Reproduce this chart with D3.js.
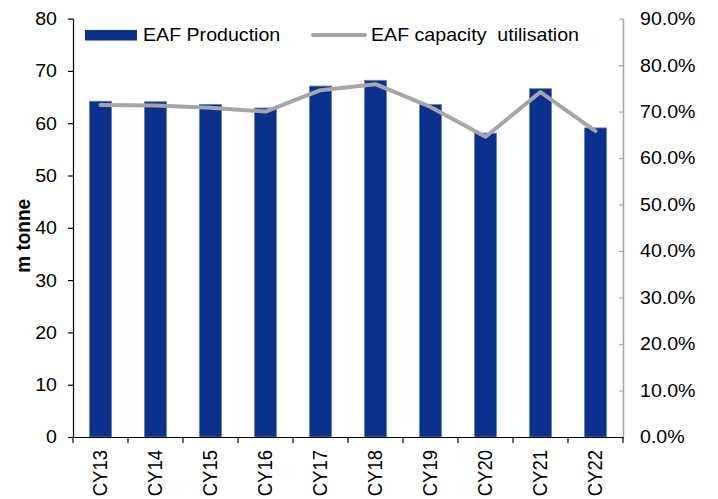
<!DOCTYPE html>
<html>
<head>
<meta charset="utf-8">
<script src="https://cdn.jsdelivr.net/npm/d3@7/dist/d3.min.js"></script>
<style>
  html, body { margin: 0; padding: 0; background: #fff; }
  svg text { font-family: "Liberation Sans", Arial, sans-serif; fill: #000; }
</style>
</head>
<body>
<svg id="chart" width="718" height="499"></svg>
<script>
// EAF production (m tonne) and EAF capacity utilisation (%)
const categories = ["CY13", "CY14", "CY15", "CY16", "CY17", "CY18", "CY19", "CY20", "CY21", "CY22"];
const production = [64.2, 64.1, 63.6, 62.9, 67.1, 68.2, 63.6, 58.1, 66.6, 59.1];
const utilisation = [71.4, 71.3, 70.8, 70.0, 74.6, 75.9, 71.0, 64.6, 74.2, 65.8];
const leftTicks = [0, 10, 20, 30, 40, 50, 60, 70, 80];
const rightTicks = [0, 10, 20, 30, 40, 50, 60, 70, 80, 90];
const seriesNames = ["EAF Production", "EAF capacity  utilisation"];

const barColor = "#0b318f";
const lineColor = "#a6a6a6";
const fontSize = 18.5;
const sx = 1.06; // slight horizontal widening of the lettering

const svg = d3.select("#chart");
const plot = { left: 73, right: 623, top: 18.6, bottom: 437 };

const x = d3.scaleBand().domain(categories)
  .range([plot.left, plot.right]).paddingInner(0.6).paddingOuter(0.3);
const xPoint = c => x(c) + x.bandwidth() / 2;
const yL = d3.scaleLinear().domain([0, 80]).range([plot.bottom, plot.top]);
const yR = d3.scaleLinear().domain([0, 90]).range([plot.bottom, plot.top]);

// Bars
svg.append("g").selectAll("rect").data(categories).join("rect")
  .attr("x", c => x(c))
  .attr("y", (c, i) => yL(production[i]))
  .attr("width", x.bandwidth())
  .attr("height", (c, i) => yL(0) - yL(production[i]))
  .attr("fill", barColor)
  .attr("stroke", "#5f7fc4")
  .attr("stroke-width", 0.8);

// Utilisation line
const line = d3.line().x((d, i) => xPoint(categories[i])).y(d => yR(d));
svg.append("path").datum(utilisation)
  .attr("d", line)
  .attr("fill", "none")
  .attr("stroke", lineColor)
  .attr("stroke-width", 4)
  .attr("stroke-linejoin", "round")
  .attr("stroke-linecap", "round");

// Left axis
const gL = svg.append("g").attr("transform", `translate(${plot.left},0)`)
  .call(d3.axisLeft(yL).tickValues(leftTicks).tickSize(5).tickPadding(11).tickSizeOuter(0));
gL.select(".domain").attr("stroke", "#000").attr("stroke-width", 1.2);
gL.selectAll(".tick line").attr("stroke", "#000").attr("stroke-width", 1.2);
gL.selectAll(".tick text")
  .style("font-size", fontSize + "px")
  .attr("x", -16 / sx)
  .attr("transform", `scale(${sx},1)`);

// Right axis
const gR = svg.append("g").attr("transform", `translate(${plot.right},0)`)
  .call(d3.axisRight(yR).tickValues(rightTicks).tickSize(-4).tickPadding(17)
    .tickSizeOuter(0).tickFormat(d => d.toFixed(1) + "%"));
gR.select(".domain").attr("stroke", lineColor).attr("stroke-width", 1.5);
gR.selectAll(".tick line").attr("stroke", lineColor).attr("stroke-width", 1.2);
gR.selectAll(".tick text")
  .style("font-size", fontSize + "px")
  .attr("x", 17 / sx)
  .attr("transform", `scale(${sx},1)`);

// Bottom axis with ticks between categories
const gB = svg.append("g").attr("transform", `translate(0,${plot.bottom})`)
  .call(d3.axisBottom(x).tickSize(0).tickSizeOuter(0));
gB.select(".domain").attr("stroke", "#000").attr("stroke-width", 1.2);
gB.selectAll(".tick text")
  .style("font-size", fontSize + "px")
  .attr("text-anchor", "end")
  .attr("x", -13)
  .attr("y", 0)
  .attr("dy", "0.35em")
  .attr("transform", `scale(${sx},1) rotate(-90)`);
const bounds = categories.map(c => x(c) - x.step() * x.paddingInner() / 2).concat([plot.right]);
bounds[0] = plot.left;
gB.append("g").selectAll("line").data(bounds).join("line")
  .attr("x1", d => d).attr("x2", d => d)
  .attr("y1", 0).attr("y2", 6)
  .attr("stroke", "#000").attr("stroke-width", 1.2);

// Left axis title
svg.append("text")
  .attr("transform", `translate(30,${(plot.top + plot.bottom) / 2 + 8}) scale(${sx},1) rotate(-90)`)
  .attr("text-anchor", "middle")
  .style("font-size", "19px")
  .style("font-weight", "bold")
  .text("m tonne");

// Legend
const legend = svg.append("g");
legend.append("rect")
  .attr("x", 85).attr("y", 30).attr("width", 52).attr("height", 10.5)
  .attr("fill", barColor);
legend.append("text")
  .attr("transform", `translate(143,41) scale(${sx},1)`)
  .style("font-size", fontSize + "px")
  .text(seriesNames[0]);
legend.append("line")
  .attr("x1", 313).attr("x2", 365).attr("y1", 35).attr("y2", 35)
  .attr("stroke", lineColor).attr("stroke-width", 4).attr("stroke-linecap", "round");
legend.append("text")
  .attr("transform", `translate(371,41) scale(${sx},1)`)
  .attr("xml:space", "preserve")
  .style("white-space", "pre")
  .style("font-size", fontSize + "px")
  .text(seriesNames[1]);
</script>
</body>
</html>
